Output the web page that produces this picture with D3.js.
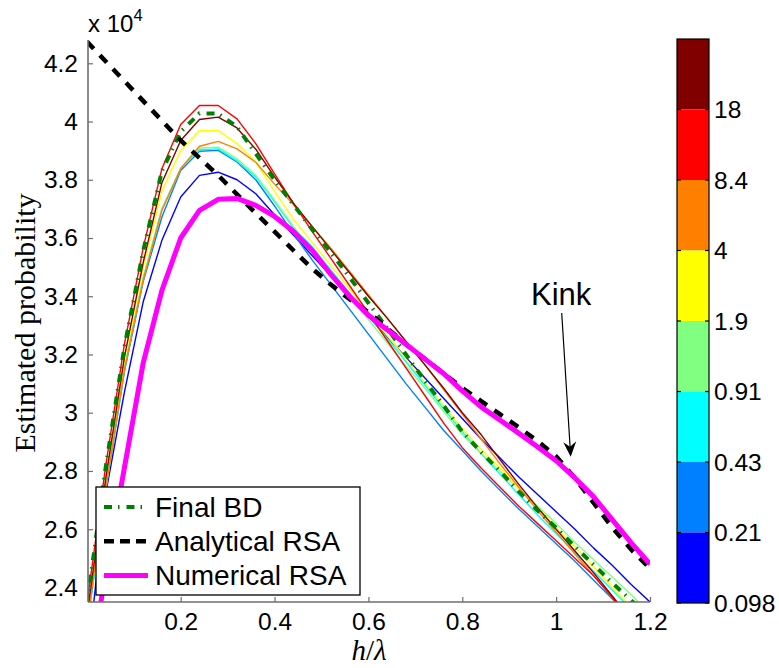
<!DOCTYPE html>
<html><head><meta charset="utf-8">
<script src="https://cdn.jsdelivr.net/npm/d3@7"></script>
<style>body{margin:0;background:#fff}svg{display:block}</style>
</head><body><svg id="c" width="779" height="668"></svg>
<script>
const hLambda = [0,0.04,0.08,0.12,0.16,0.2,0.24,0.28,0.32,0.36,0.4,0.44,0.48,0.52,0.56,0.6,0.64,0.68,0.72,0.76,0.8,0.84,0.88,0.92,0.96,1.0,1.04,1.08,1.12,1.16,1.2];
const run0098 = [2.13,2.72,3.07,3.38,3.592,3.741,3.815,3.826,3.80,3.752,3.68,3.61,3.54,3.47,3.40,3.33,3.26,3.19,3.12,3.05,2.98,2.91,2.845,2.78,2.72,2.66,2.60,2.535,2.475,2.41,2.35];
const run021 = [2.26,2.73,3.14,3.45,3.672,3.832,3.898,3.901,3.861,3.80,3.71,3.615,3.525,3.44,3.355,3.27,3.185,3.10,3.02,2.94,2.87,2.80,2.735,2.67,2.61,2.55,2.49,2.425,2.36,2.295,2.23];
const run043 = [2.26,2.735,3.15,3.46,3.70,3.838,3.903,3.906,3.865,3.81,3.725,3.635,3.57,3.49,3.41,3.335,3.255,3.175,3.095,3.015,2.935,2.86,2.79,2.72,2.65,2.585,2.52,2.455,2.39,2.325,2.26];
const run091 = [2.27,2.74,3.155,3.465,3.70,3.84,3.909,3.912,3.872,3.815,3.73,3.64,3.56,3.48,3.40,3.32,3.24,3.16,3.085,3.005,2.925,2.86,2.80,2.74,2.68,2.62,2.555,2.495,2.435,2.375,2.31];
const run19 = [2.29,2.76,3.18,3.50,3.762,3.90,3.969,3.969,3.924,3.861,3.76,3.665,3.585,3.505,3.425,3.345,3.265,3.185,3.105,3.025,2.945,2.875,2.81,2.74,2.675,2.605,2.54,2.47,2.40,2.33,2.26];
const run4 = [2.27,2.735,3.147,3.455,3.695,3.838,3.915,3.932,3.906,3.86,3.785,3.715,3.64,3.565,3.485,3.405,3.325,3.245,3.165,3.08,2.995,2.91,2.825,2.745,2.665,2.59,2.515,2.44,2.365,2.285,2.205];
const run84 = [2.34,2.815,3.235,3.565,3.838,3.99,4.055,4.055,4.009,3.924,3.82,3.72,3.623,3.53,3.436,3.342,3.248,3.154,3.06,2.965,2.88,2.81,2.745,2.68,2.62,2.56,2.50,2.44,2.365,2.28,2.2];
const run18 = [2.30,2.77,3.19,3.515,3.79,3.935,4.007,4.015,3.978,3.905,3.81,3.72,3.64,3.56,3.48,3.40,3.325,3.245,3.165,3.085,3.00,2.925,2.84,2.755,2.675,2.60,2.525,2.45,2.37,2.29,2.21];
const finalBD = [2.34,2.81,3.225,3.555,3.83,3.965,4.028,4.027,3.982,3.89,3.80,3.715,3.63,3.55,3.465,3.377,3.29,3.20,3.11,3.025,2.935,2.865,2.80,2.73,2.665,2.605,2.54,2.478,2.415,2.355,2.30];
const analyticalRSA = [4.275,4.207,4.139,4.071,4.003,3.935,3.875,3.815,3.75,3.685,3.622,3.558,3.495,3.44,3.39,3.345,3.29,3.235,3.185,3.135,3.085,3.04,2.995,2.95,2.903,2.85,2.776,2.69,2.605,2.53,2.465];
const numericalRSA = [2.05,2.45,2.81,3.17,3.42,3.60,3.695,3.733,3.736,3.712,3.674,3.623,3.558,3.475,3.40,3.335,3.285,3.235,3.185,3.135,3.075,3.02,2.975,2.93,2.883,2.835,2.776,2.711,2.632,2.553,2.48];

const runSeries = [run0098, run021, run043, run091, run19, run4, run84, run18];
const runColors = ["#0000ff","#0080ff","#00ffff","#80ff80","#ffff00","#ff8000","#ff0000","#800000"];
const cbColorsTop = ["#800000","#ff0000","#ff8000","#ffff00","#80ff80","#00ffff","#0080ff","#0000ff"];
const cbLabels = ["18","8.4","4","1.9","0.91","0.43","0.21","0.098"];
const xTicks = [0.2,0.4,0.6,0.8,1.0,1.2];
const yTicks = [2.4,2.6,2.8,3.0,3.2,3.4,3.6,3.8,4.0,4.2];
const legendNames = ["Final BD","Analytical RSA","Numerical RSA"];

const svg = d3.select("#c");
const L=88, R=650, T=40, B=602;
const x = d3.scaleLinear().domain([0.0025,1.2]).range([L,R]);
const y = d3.scaleLinear().domain([2.35,4.28]).range([B,T]);
const sans = "'Liberation Sans', Arial, sans-serif";
const serif = "'Liberation Serif', 'Times New Roman', serif";

svg.append("defs").append("clipPath").attr("id","pc")
  .append("rect").attr("x",L).attr("y",T).attr("width",R-L).attr("height",B-T);

const gPlot = svg.append("g").attr("clip-path","url(#pc)");
const line = d3.line().x((d,i)=>x(hLambda[i])).y(d=>y(d));

runSeries.forEach((s,k)=>{
  gPlot.append("path").attr("d",line(s)).attr("fill","none")
    .attr("stroke",runColors[k]).attr("stroke-width",1.4).attr("stroke-linejoin","round");
});
gPlot.append("path").attr("d",line(finalBD)).attr("fill","none")
  .attr("stroke","#008000").attr("stroke-width",4).attr("stroke-dasharray","8,6,1.5,7");
gPlot.append("path").attr("d",line(analyticalRSA)).attr("fill","none")
  .attr("stroke","#000").attr("stroke-width",4.5).attr("stroke-dasharray","10,9");
gPlot.append("path").attr("d",line(numericalRSA)).attr("fill","none")
  .attr("stroke","#ff00ff").attr("stroke-width",5).attr("stroke-linejoin","round");

// axes
const axCol = "#6e6e6e";
const yAxis = d3.axisLeft(y).tickValues(yTicks).tickSizeInner(-5).tickSizeOuter(0)
  .tickPadding(10).tickFormat(d=>d3.format("")(+d.toFixed(1)));
const gy = svg.append("g").attr("transform",`translate(${L},0)`).call(yAxis);
const xAxis = d3.axisBottom(x).tickValues(xTicks).tickSizeInner(-5).tickSizeOuter(0)
  .tickPadding(11).tickFormat(d=>d3.format("")(+d.toFixed(1)));
const gx = svg.append("g").attr("transform",`translate(0,${B})`).call(xAxis);
[gx,gy].forEach(g=>{
  g.select(".domain").attr("stroke",axCol).attr("stroke-width",1.6);
  g.selectAll(".tick line").attr("stroke",axCol).attr("stroke-width",1.2);
  g.selectAll(".tick text").attr("font-family",sans).attr("font-size",24.5).attr("fill","#000");
});
gy.select(".domain").attr("d",`M0,${T}V${B}`);
gx.select(".domain").attr("d",`M${L},0H${R}`);
gx.selectAll(".tick text").attr("dy","0.71em");

// exponent label
const ex = svg.append("text").attr("x",88).attr("y",32).attr("font-family",sans).attr("font-size",24).attr("fill","#000");
ex.append("tspan").text("x 10");
ex.append("tspan").attr("font-size",16.5).attr("dy",-11).text("4");

// axis labels
svg.append("text").attr("transform","translate(35,323) rotate(-90)").attr("text-anchor","middle")
  .attr("font-family",serif).attr("font-size",30).attr("fill","#000").text("Estimated probability");
const xl = svg.append("text").attr("x",369).attr("y",660).attr("text-anchor","middle")
  .attr("font-family",serif).attr("font-size",29).attr("fill","#000");
xl.append("tspan").attr("font-style","italic").text("h");
xl.append("tspan").text("/");
xl.append("tspan").attr("font-style","italic").text("λ");

// legend
const lg = svg.append("g");
lg.append("rect").attr("x",96).attr("y",487).attr("width",264).attr("height",108)
  .attr("fill","#fff").attr("stroke","#000").attr("stroke-width",1.3);
const lStyles = [
  {c:"#008000",w:4,da:"8,6,1.5,7"},
  {c:"#000",w:4.5,da:"10,6"},
  {c:"#ff00ff",w:5,da:null}
];
legendNames.forEach((n,i)=>{
  const cy = 507 + i*34.2;
  const p = lg.append("line").attr("x1",104).attr("x2",148).attr("y1",cy).attr("y2",cy)
    .attr("stroke",lStyles[i].c).attr("stroke-width",lStyles[i].w);
  if(lStyles[i].da) p.attr("stroke-dasharray",lStyles[i].da);
  lg.append("text").attr("x",155).attr("y",cy+10).attr("font-family",sans).attr("font-size",28)
    .attr("fill","#000").text(n);
});

// colorbar
const cbx=677, cbw=32;
const cy = d3.scaleLinear().domain([0,8]).range([39,603]);
cbColorsTop.forEach((c,i)=>{
  svg.append("rect").attr("x",cbx).attr("y",cy(i)).attr("width",cbw).attr("height",cy(i+1)-cy(i)).attr("fill",c);
});
svg.append("rect").attr("x",cbx).attr("y",cy(0)).attr("width",cbw).attr("height",cy(8)-cy(0))
  .attr("fill","none").attr("stroke","#000").attr("stroke-width",1.2);
cbLabels.forEach((t,i)=>{
  const yy = cy(i+1);
  svg.append("line").attr("x1",cbx).attr("x2",cbx+4).attr("y1",yy).attr("y2",yy).attr("stroke","#000").attr("stroke-width",1.2);
  svg.append("line").attr("x1",cbx+cbw-4).attr("x2",cbx+cbw).attr("y1",yy).attr("y2",yy).attr("stroke","#000").attr("stroke-width",1.2);
  svg.append("text").attr("x",714).attr("y",yy).attr("dy","0.36em").attr("font-family",sans)
    .attr("font-size",24.5).attr("fill","#000").text(t);
});

// Kink annotation
svg.append("text").attr("x",531).attr("y",305).attr("font-family",sans).attr("font-size",31).attr("fill","#000").text("Kink");
const ax1=[561.7,313], ax2=[570.7,456.7];
svg.append("line").attr("x1",ax1[0]).attr("y1",ax1[1]).attr("x2",ax2[0]-0.5).attr("y2",ax2[1]-8)
  .attr("stroke","#000").attr("stroke-width",1.2);
const ang = Math.atan2(ax2[1]-ax1[1], ax2[0]-ax1[0]);
const pt=(d,o)=>[ax2[0]-d*Math.cos(ang)-o*Math.sin(ang), ax2[1]-d*Math.sin(ang)+o*Math.cos(ang)];
const hp=[ax2,pt(15,6.5),pt(10,0),pt(15,-6.5)];
svg.append("path").attr("d","M"+hp.map(p=>p.join(",")).join("L")+"Z").attr("fill","#000");
</script></body></html>
